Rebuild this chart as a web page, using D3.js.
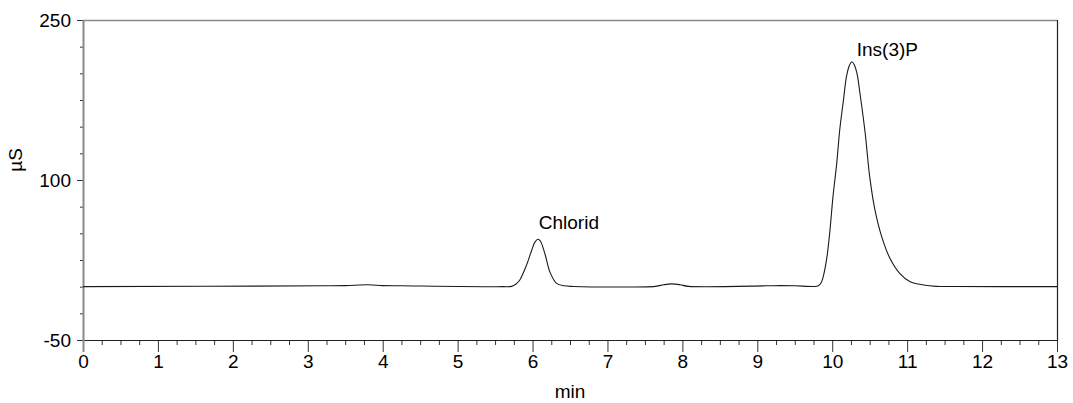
<!DOCTYPE html>
<html>
<head>
<meta charset="utf-8">
<script src="https://cdn.jsdelivr.net/npm/d3@7"></script>
<style>
  html, body { margin: 0; padding: 0; background: #fff; }
  svg { display: block; font-family: "Liberation Sans", Arial, sans-serif; }
</style>
</head>
<body>
<svg id="chart" width="1073" height="403"></svg>
<script>
// ---- data ----
const times = [0, 3.23, 3.5, 3.81, 4.0, 4.25, 5.6, 5.72, 5.78, 5.83, 5.92, 5.99, 6.03, 6.07, 6.10, 6.12, 6.17, 6.23, 6.32, 6.42, 6.55,
  7.64, 7.75, 7.86, 7.97, 8.08, 9.13, 9.30, 9.50, 9.75, 9.81, 9.85, 9.88, 9.93, 9.97, 10.01, 10.06, 10.10, 10.15, 10.19, 10.23, 10.26,
  10.29, 10.33, 10.37, 10.44, 10.50, 10.57, 10.66, 10.77, 10.90, 11.04, 11.22, 11.39, 11.6, 13];
const values = [0, 0.8, 1.0, 1.8, 1.0, 0.8, 0, 0.3, 2.5, 6.25, 20.3, 34.4, 41.5, 44.4, 43.2, 40.6, 29.7, 14.1, 3.1, 0.8, 0.2,
  0.3, 1.8, 2.6, 1.8, 0.3, 0.8, 1.0, 0.8, 0.2, 0.6, 3.5, 9.4, 28.1, 53.1, 84.4, 115.6, 146.9, 175, 196.9, 207.5, 210.9,
  208.5, 200, 181.3, 143.8, 103.1, 71.9, 46.9, 26.6, 12.5, 4.7, 1.6, 0.3, 0.1, 0];

const peakLabels = ["Chlorid", "Ins(3)P"];
const peakTimes = [6.07, 10.26];
const peakHeights = [44.4, 210.9];

const xMajorTicks = [0, 1, 2, 3, 4, 5, 6, 7, 8, 9, 10, 11, 12, 13];
const yLabelTicks = [-50, 100, 250];
const xTitle = "min";
const yTitle = "µS";

// ---- layout ----
const svg = d3.select("#chart");
const mLeft = 83, mRight = 1057, mTop = 20, mBottom = 340;
const x = d3.scaleLinear().domain([0, 13]).range([mLeft, mRight]);
const y = d3.scaleLinear().domain([-50, 250]).range([mBottom, mTop]);

const xMinor = d3.range(0, 13.001, 0.25).filter(t => Math.abs(t - Math.round(t)) > 1e-6);
const yMinor = d3.range(-50, 250.001, 25).filter(v => !yLabelTicks.includes(v));
const FONT = "Liberation Sans, Arial, sans-serif";
const FS = 19;

// frame: top (gray) and right (dark)
svg.append("line").attr("x1", mLeft).attr("x2", mRight).attr("y1", mTop + 0.5).attr("y2", mTop + 0.5)
  .attr("stroke", "#8a8a8a").attr("stroke-width", 1.5);
svg.append("line").attr("x1", mRight + 0.5).attr("x2", mRight + 0.5).attr("y1", mTop).attr("y2", mBottom)
  .attr("stroke", "#222").attr("stroke-width", 1.2);

// x axis
const gx = svg.append("g").attr("transform", `translate(0,${mBottom})`);
gx.call(d3.axisBottom(x).tickValues(xMinor).tickSize(5).tickFormat(""))
  .call(g => g.select(".domain").remove())
  .call(g => g.selectAll("line").attr("stroke", "#333"));
const gx2 = svg.append("g").attr("transform", `translate(0,${mBottom})`);
gx2.call(d3.axisBottom(x).tickValues(xMajorTicks).tickSize(12).tickPadding(3).tickFormat(d => String(d)))
  .call(g => g.select(".domain").remove())
  .call(g => g.selectAll("line").attr("stroke", "#333"))
  .call(g => g.selectAll("text").attr("font-size", FS).attr("fill", "#000").attr("font-family", FONT));
svg.append("line").attr("x1", mLeft).attr("x2", mRight + 1).attr("y1", mBottom + 0.5).attr("y2", mBottom + 0.5)
  .attr("stroke", "#222").attr("stroke-width", 1);

// y axis
const gy = svg.append("g").attr("transform", `translate(${mLeft},0)`);
gy.call(d3.axisLeft(y).tickValues(yMinor).tickSize(3).tickFormat(""))
  .call(g => g.select(".domain").remove())
  .call(g => g.selectAll("line").attr("stroke", "#333"));
const gy2 = svg.append("g").attr("transform", `translate(${mLeft},0)`);
gy2.call(d3.axisLeft(y).tickValues(yLabelTicks).tickSize(6).tickPadding(6).tickFormat(d => String(d)))
  .call(g => g.select(".domain").remove())
  .call(g => g.selectAll("line").attr("stroke", "#333"))
  .call(g => g.selectAll("text").attr("font-size", FS).attr("fill", "#000").attr("font-family", FONT));
svg.append("line").attr("x1", mLeft + 0.5).attr("x2", mLeft + 0.5).attr("y1", mTop).attr("y2", mBottom + 12)
  .attr("stroke", "#8a8a8a").attr("stroke-width", 2);

// axis titles
svg.append("text").attr("x", (mLeft + mRight) / 2).attr("y", 398).attr("text-anchor", "middle")
  .attr("font-size", FS).text(xTitle);
svg.append("text").attr("transform", `translate(22,${(y(100) + y(250)) / 2 + 60}) rotate(-90)`)
  .attr("text-anchor", "middle").attr("font-size", FS).text(yTitle);

// chromatogram trace
const data = times.map((t, i) => ({ t, v: values[i] }));
const line = d3.line().x(d => x(d.t)).y(d => y(d.v)).curve(d3.curveCatmullRom.alpha(0.5));
svg.append("path").datum(data).attr("d", line).attr("fill", "none")
  .attr("stroke", "#1a1a1a").attr("stroke-width", 1.1);

// peak labels
const labelDx = [1, 5], labelDy = [-10, -6];
svg.selectAll("text.peak").data(peakLabels).enter().append("text").attr("class", "peak")
  .attr("x", (d, i) => x(peakTimes[i]) + labelDx[i])
  .attr("y", (d, i) => y(peakHeights[i]) + labelDy[i])
  .attr("font-size", FS).attr("fill", "#000").text(d => d);
</script>
</body>
</html>
